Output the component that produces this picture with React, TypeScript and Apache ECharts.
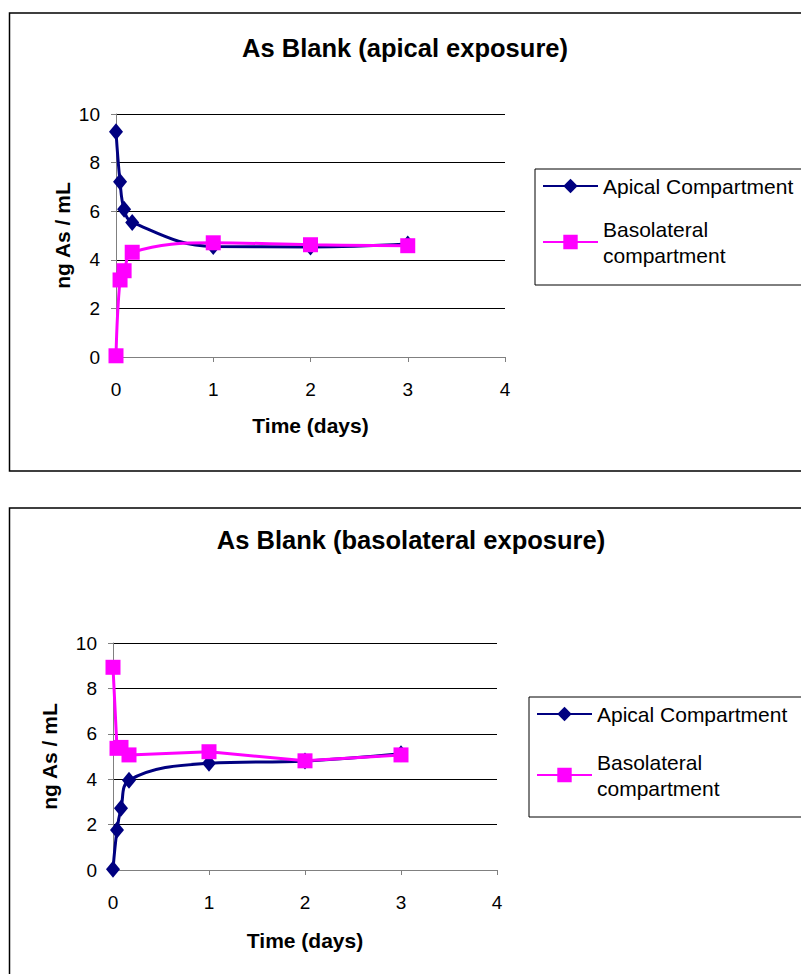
import React, { useEffect, useRef } from "react";
import * as echarts from "echarts";

// Sampling times in days (0, 1 h, 2 h, 4 h, then daily)
const timesDays = [0, 1 / 24, 2 / 24, 4 / 24, 1, 2, 3];

// Apical exposure (ng As / mL)
const apicalExpApical = [9.27, 7.21, 6.08, 5.54, 4.55, 4.53, 4.65];
const apicalExpBasolateral = [0.05, 3.17, 3.55, 4.31, 4.7, 4.62, 4.58];

// Basolateral exposure (ng As / mL)
const basoExpApical = [0.03, 1.76, 2.72, 3.95, 4.7, 4.8, 5.12];
const basoExpBasolateral = [8.93, 5.36, 5.4, 5.07, 5.21, 4.81, 5.07];

const xTicks = [0, 1, 2, 3, 4];
const yTicks = [0, 2, 4, 6, 8, 10];

const seriesNames = ["Apical Compartment", "Basolateral compartment"];
const chartTitles = ["As Blank (apical exposure)", "As Blank (basolateral exposure)"];

const FONT = "'Liberation Sans', Arial, Helvetica, sans-serif";
const NAVY = "#000080";
const MAGENTA = "#FF00FF";

const pairs = (xs: number[], ys: number[]) => xs.map((x, i) => [x, ys[i]]);

export default function App() {
  const ref = useRef<HTMLDivElement>(null);

  useEffect(() => {
    if (!ref.current) return;
    const chart = echarts.init(ref.current, undefined, { renderer: "svg" });

    const grids = [
      { left: 116, top: 114, width: 389, height: 243 },
      { left: 113, top: 643, width: 384, height: 227 },
    ];

    const xAxis = grids.map((_, i) => ({
      type: "value",
      gridIndex: i,
      min: xTicks[0],
      max: xTicks[xTicks.length - 1],
      interval: 1,
      name: "Time (days)",
      nameLocation: "middle",
      nameGap: i === 0 ? 58 : 60,
      nameTextStyle: { fontFamily: FONT, fontSize: 21, fontWeight: "bold", color: "#000" },
      axisLine: { show: true, lineStyle: { color: "#808080", width: 1 } },
      axisTick: { show: true, inside: false, length: 5, lineStyle: { color: "#808080" } },
      axisLabel: { fontFamily: FONT, fontSize: 19, color: "#000", margin: 23 },
      splitLine: { show: false },
    }));

    const yAxis = grids.map((_, i) => ({
      type: "value",
      gridIndex: i,
      min: yTicks[0],
      max: yTicks[yTicks.length - 1],
      interval: 2,
      name: "ng As / mL",
      nameLocation: "middle",
      nameRotate: 90,
      nameGap: i === 0 ? 43 : 53,
      nameTextStyle: { fontFamily: FONT, fontSize: 21, fontWeight: "bold", color: "#000" },
      axisLine: { show: true, lineStyle: { color: "#808080", width: 1 } },
      axisTick: { show: true, inside: false, length: 5, lineStyle: { color: "#808080" } },
      axisLabel: { fontFamily: FONT, fontSize: 19, color: "#000", margin: 16 },
      splitLine: { show: true, lineStyle: { color: "#000", width: 1 } },
    }));

    const lineSeries = (
      name: string,
      idx: number,
      ys: number[],
      color: string,
      symbol: string,
      symbolSize: number | number[],
      smooth: boolean | number
    ) => ({
      type: "line",
      name,
      xAxisIndex: idx,
      yAxisIndex: idx,
      data: pairs(timesDays, ys),
      smooth,
      symbol,
      symbolSize,
      showAllSymbol: true,
      lineStyle: { color, width: 3 },
      itemStyle: { color, borderWidth: 0 },
      emphasis: { disabled: true },
    });

    const series = [
      lineSeries(seriesNames[0], 0, apicalExpApical, NAVY, "diamond", [14, 17], 0.4),
      lineSeries(seriesNames[1], 0, apicalExpBasolateral, MAGENTA, "rect", 15, 0.4),
      lineSeries(seriesNames[0], 1, basoExpApical, NAVY, "diamond", [14, 17], 0.4),
      lineSeries(seriesNames[1], 1, basoExpBasolateral, MAGENTA, "rect", 15, false),
    ];

    const legendBox = (left: number, top: number, gap: number, padTop: number, padBottom: number) => ({
      orient: "vertical",
      left,
      top,
      itemWidth: 55,
      itemHeight: 18,
      itemGap: gap,
      padding: [padTop, 30, padBottom, 7],
      borderColor: "#000",
      borderWidth: 1,
      backgroundColor: "#fff",
      selectedMode: false,
      textStyle: { fontFamily: FONT, fontSize: 21, color: "#000", lineHeight: 26 },
      formatter: (n: string) => (n === seriesNames[1] ? "Basolateral\ncompartment" : n),
      data: [
        { name: seriesNames[0] },
        { name: seriesNames[1], textStyle: { padding: [26, 0, 0, 0] } },
      ],
    });

    const titleStyle = { fontFamily: FONT, fontSize: 25.5, fontWeight: "bold", color: "#000" };

    chart.setOption({
      animation: false,
      backgroundColor: "#fff",
      title: [
        { text: chartTitles[0], left: 405, top: 35, textAlign: "center", padding: 0, textStyle: titleStyle },
        { text: chartTitles[1], left: 411, top: 527, textAlign: "center", padding: 0, textStyle: titleStyle },
      ],
      legend: [legendBox(535, 169, 4, 4, 4), legendBox(529, 697, 9, 4, 3)],
      grid: grids,
      xAxis,
      yAxis,
      series,
      graphic: [
        {
          type: "rect",
          shape: { x: 9.5, y: 13, width: 820, height: 458 },
          style: { fill: "none", stroke: "#000", lineWidth: 1.5 },
          silent: true,
          z: -1,
        },
        {
          type: "rect",
          shape: { x: 9.5, y: 508, width: 820, height: 500 },
          style: { fill: "none", stroke: "#000", lineWidth: 1.5 },
          silent: true,
          z: -1,
        },
      ],
    });

    return () => chart.dispose();
  }, []);

  return (
    <div
      ref={ref}
      style={{ position: "absolute", left: 0, top: 0, width: 801, height: 974, overflow: "hidden" }}
    />
  );
}
